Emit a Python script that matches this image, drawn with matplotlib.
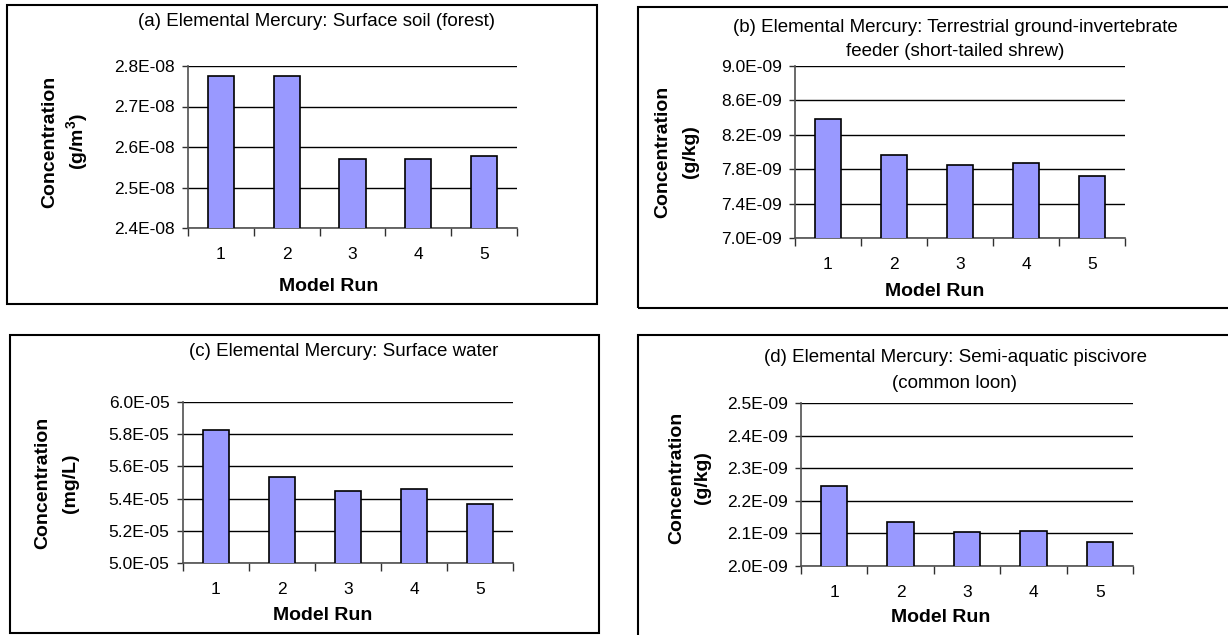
import matplotlib
matplotlib.use("Agg")
import matplotlib.pyplot as plt
from matplotlib.patches import Rectangle
from matplotlib.ticker import FixedLocator, FuncFormatter

plt.rcParams['font.family'] = ['Liberation Sans', 'DejaVu Sans']
plt.rcParams['mathtext.fontset'] = 'custom'
plt.rcParams['mathtext.rm'] = 'Liberation Sans'
plt.rcParams['mathtext.bf'] = 'Liberation Sans:bold'

# ---- data ----
runs = [1, 2, 3, 4, 5]
soil_forest = [2.775e-08, 2.775e-08, 2.571e-08, 2.571e-08, 2.577e-08]
shrew = [8.38e-09, 7.97e-09, 7.85e-09, 7.87e-09, 7.72e-09]
surface_water = [5.825e-05, 5.536e-05, 5.449e-05, 5.458e-05, 5.367e-05]
loon = [2.244e-09, 2.136e-09, 2.1045e-09, 2.108e-09, 2.075e-09]

ticks_a = [2.4e-08, 2.5e-08, 2.6e-08, 2.7e-08, 2.8e-08]
ticks_b = [7.0e-09, 7.4e-09, 7.8e-09, 8.2e-09, 8.6e-09, 9.0e-09]
ticks_c = [5.0e-05, 5.2e-05, 5.4e-05, 5.6e-05, 5.8e-05, 6.0e-05]
ticks_d = [2.0e-09, 2.1e-09, 2.2e-09, 2.3e-09, 2.4e-09, 2.5e-09]

titles = [
    ["(a) Elemental Mercury: Surface soil (forest)"],
    ["(b) Elemental Mercury: Terrestrial ground-invertebrate", "feeder (short-tailed shrew)"],
    ["(c) Elemental Mercury: Surface water"],
    ["(d) Elemental Mercury: Semi-aquatic piscivore", "(common loon)"],
]
units = [r"(g/m$^{\mathbf{3}}$)", "(g/kg)", "(mg/L)", "(g/kg)"]
xlabel = "Model Run"
ylabel = "Concentration"

W, H = 1228, 635
fig = plt.figure(figsize=(W / 100, H / 100), dpi=100)
fig.patch.set_facecolor('white')


def fx(x):
    return x / W


def fy(y):
    return 1 - y / H


def sci(v, pos=None):
    s = "%.1E" % v
    mant, exp = s.split("E")
    sign = exp[0]
    num = exp[1:].lstrip("0").zfill(2)
    return f"{mant}E{sign}{num}"


TICK_FS = 12.5
TITLE_FS = 13.5
LABEL_FS = 14

panels = [
    dict(frame=(7, 5, 597, 304), ax=(188, 66, 517, 228), data=soil_forest, ticks=ticks_a,
         tx=317, ty=(22,), ylx=(50, 78), yly=142, xly=287, xlx=329),
    dict(frame=(638, 7, 1240, 308), ax=(795, 66, 1125, 238), data=shrew, ticks=ticks_b,
         tx=955, ty=(27, 52), ylx=(663, 690), yly=152, xly=292, xlx=935),
    dict(frame=(10, 335, 599, 633), ax=(183, 402, 513, 563), data=surface_water, ticks=ticks_c,
         tx=344, ty=(352,), ylx=(43, 71), yly=483, xly=615, xlx=323),
    dict(frame=(638, 335, 1240, 640), ax=(801, 403, 1133, 566), data=loon, ticks=ticks_d,
         tx=955, ty=(357, 383), ylx=(677, 702), yly=478, xly=618, xlx=941),
]

for i, p in enumerate(panels):
    l, t, r, b = p['frame']
    fig.patches.append(Rectangle((fx(l), fy(b)), fx(r - l), (b - t) / H,
                                 transform=fig.transFigure, fill=False,
                                 edgecolor='black', linewidth=1.5, zorder=0))
    al, at, ar, ab = p['ax']
    ax = fig.add_axes([fx(al), fy(ab), fx(ar - al), (ab - at) / H])
    ax.set_facecolor('none')
    ax.bar(runs, p['data'], width=0.4, color='#9999FF', edgecolor='black',
           linewidth=1.2, zorder=3)
    tk = p['ticks']
    ax.set_ylim(tk[0], tk[-1])
    ax.set_xlim(0.5, 5.5)
    ax.yaxis.set_major_locator(FixedLocator(tk))
    ax.yaxis.set_major_formatter(FuncFormatter(sci))
    ax.grid(axis='y', color='black', linewidth=1.0, zorder=1)
    ax.set_axisbelow(True)
    for s in ['top', 'right']:
        ax.spines[s].set_visible(False)
    for s in ['left', 'bottom']:
        ax.spines[s].set_color('#505050')
        ax.spines[s].set_linewidth(1.2)
    ax.xaxis.set_major_locator(FixedLocator([0.5, 1.5, 2.5, 3.5, 4.5, 5.5]))
    ax.xaxis.set_major_formatter(FuncFormatter(lambda v, pos: ""))
    ax.xaxis.set_minor_locator(FixedLocator(runs))
    ax.xaxis.set_minor_formatter(FuncFormatter(lambda v, pos: str(int(round(v)))))
    ax.tick_params(axis='x', which='major', direction='out', length=5.5, width=1.0,
                   color='#303030')
    ax.tick_params(axis='x', which='minor', length=0, pad=13.5, labelsize=TICK_FS)
    ax.tick_params(axis='y', which='major', direction='out', length=4.2, width=1.0,
                   color='#303030', pad=5.5, labelsize=TICK_FS)

    for line, ty in zip(titles[i], p['ty']):
        fig.text(fx(p['tx']), fy(ty), line, ha='center', va='center', fontsize=TITLE_FS)
    fig.text(fx(p['ylx'][0]), fy(p['yly']), ylabel, rotation=90, ha='center', va='center',
             fontsize=LABEL_FS, fontweight='bold')
    fig.text(fx(p['ylx'][1]), fy(p['yly']), units[i], rotation=90, ha='center', va='center',
             fontsize=LABEL_FS, fontweight='bold')
    fig.text(fx(p['xlx']), fy(p['xly']), xlabel, ha='center', va='center',
             fontsize=LABEL_FS, fontweight='bold')

fig.savefig("out.png", dpi=100, facecolor='white')
